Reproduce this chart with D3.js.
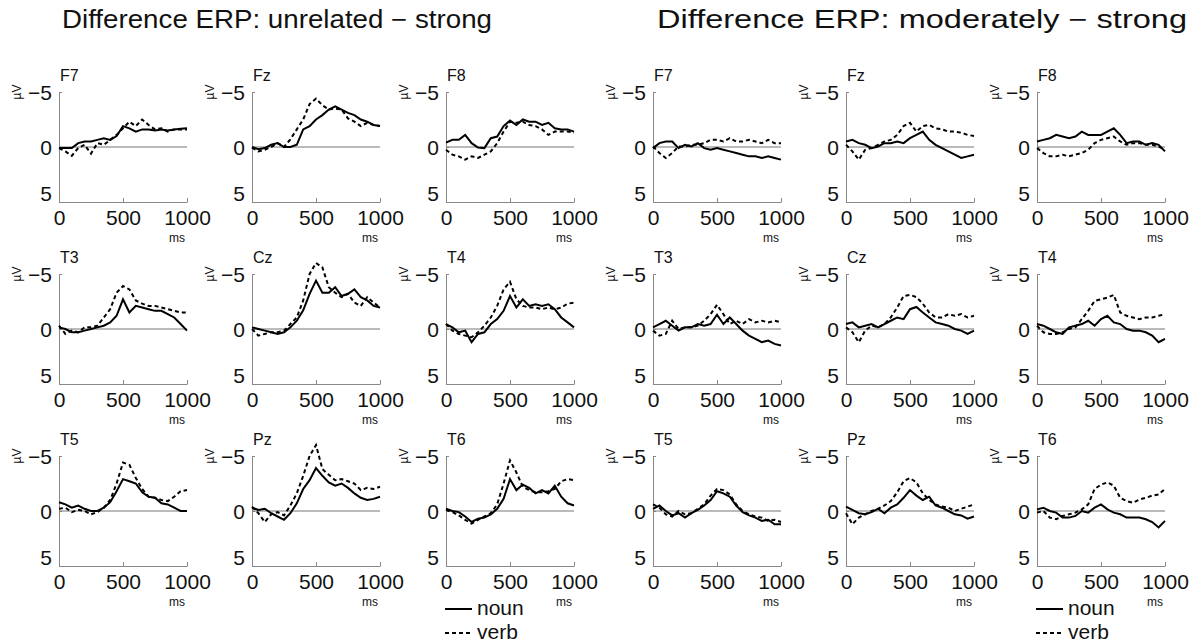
<!DOCTYPE html>
<html>
<head>
<meta charset="utf-8">
<script src="https://cdn.jsdelivr.net/npm/d3@7"></script>
<style>
  body { margin: 0; background: #fff; }
  text { font-family: "Liberation Sans", Arial, sans-serif; fill: #111; }
</style>
</head>
<body>
<svg id="chart" width="1202" height="644"></svg>
<script>
const times = [0, 50, 100, 150, 200, 250, 300, 350, 400, 450, 500, 550, 600, 650, 700, 750, 800, 850, 900, 950, 1000]
const electrodes = ['F7', 'Fz', 'F8', 'T3', 'Cz', 'T4', 'T5', 'Pz', 'T6']
const titles = ['Difference ERP: unrelated \u2212 strong', 'Difference ERP: moderately \u2212 strong']
const xTicks = [0, 500, 1000]
const yTicks = [-5, 0, 5]

// unrelated - strong, one array per electrode (µV, negative up)
const unrelNoun = [
	[0.1, 0.1, 0.1, -0.35, -0.5, -0.5, -0.65, -0.8, -0.65, -1.0, -1.9, -1.7, -1.4, -1.6, -1.6, -1.5, -1.6, -1.5, -1.6, -1.65, -1.7],
	[0, 0.2, 0.1, -0.2, -0.35, 0, 0, -0.2, -1.6, -1.9, -2.5, -2.9, -3.4, -3.7, -3.4, -3.1, -2.9, -2.5, -2.3, -2.0, -1.9],
	[-0.4, -0.65, -0.65, -1.1, -0.35, 0.05, 0.1, -0.8, -0.95, -1.9, -2.4, -2.0, -2.5, -2.3, -2.3, -2.0, -2.2, -1.7, -1.6, -1.6, -1.4],
	[-0.15, 0, 0.3, 0.3, 0.15, 0, -0.15, -0.3, -0.6, -1.2, -2.7, -1.5, -2.1, -1.95, -1.8, -1.65, -1.65, -1.35, -1.05, -0.45, 0.15],
	[-0.15, 0, 0.15, 0.3, 0.45, 0.3, -0.15, -0.75, -1.7, -3.2, -4.4, -3.3, -3.3, -3.8, -3.0, -3.2, -3.6, -2.9, -2.6, -2.1, -1.95],
	[-0.45, -0.15, 0.3, 0.15, 1.2, 0.45, 0.3, -0.45, -0.9, -1.65, -3.0, -1.95, -2.7, -2.1, -2.25, -2.1, -2.25, -1.8, -1.05, -0.6, -0.15],
	[-0.8, -0.6, -0.3, -0.5, -0.2, 0, 0, -0.3, -0.8, -1.8, -2.9, -2.7, -2.5, -1.7, -1.3, -1.2, -0.7, -0.6, -0.3, 0, 0],
	[-0.3, -0.1, -0.2, 0.2, 0.5, 0.8, 0.2, -0.7, -2.0, -2.8, -3.9, -3.2, -2.6, -2.3, -2.5, -2.1, -1.6, -1.2, -1.0, -1.1, -1.3],
	[-0.2, 0, 0.1, 0.5, 1.0, 0.7, 0.6, 0.3, -0.2, -1.1, -2.9, -1.9, -2.4, -2.1, -1.6, -1.9, -1.6, -2.3, -1.3, -0.7, -0.5]
]
const unrelVerb = [
	[0.1, 0.4, 0.8, 0.1, -0.2, 0.6, -0.35, -0.2, -0.65, -1.1, -1.7, -2.3, -1.9, -2.5, -2.0, -1.6, -1.7, -1.4, -1.6, -1.6, -1.6],
	[0.05, 0.4, 0.25, 0, -0.35, 0, -0.7, -1.6, -2.5, -3.9, -4.4, -3.8, -3.4, -3.5, -3.4, -2.6, -2.3, -1.9, -2.2, -2.0, -1.9],
	[0.25, 0.7, 0.85, 1.15, 0.85, 1.0, 0.7, 0.4, -0.35, -1.4, -2.3, -2.2, -2.3, -2.0, -1.9, -1.6, -1.1, -1.4, -1.4, -1.4, -1.3],
	[-0.3, 0.45, 0.15, 0.3, -0.15, -0.15, -0.3, -1.05, -1.8, -3.3, -3.9, -3.6, -2.6, -2.3, -2.1, -2.1, -1.95, -1.8, -1.65, -1.5, -1.5],
	[0, 0.6, 0.45, 0.3, 0.3, 0.15, -0.45, -1.05, -2.6, -5.0, -6.0, -5.6, -3.8, -3.3, -2.9, -3.2, -2.4, -2.1, -2.9, -2.4, -1.95],
	[-0.45, 0.15, 0.45, 0.6, 0.75, 0.3, -0.3, -1.05, -2.1, -3.6, -4.3, -2.7, -2.1, -1.95, -1.95, -1.8, -1.95, -1.8, -1.95, -2.3, -2.4],
	[-0.2, -0.3, 0.1, -0.1, 0, 0.3, 0.1, -0.3, -1.0, -2.5, -4.4, -4.2, -3.0, -2.0, -1.3, -1.2, -1.0, -0.9, -1.3, -1.8, -1.9],
	[-0.4, 0.2, 1.0, 0.3, 0.1, 0.4, -0.5, -1.6, -3.2, -5.0, -6.0, -3.8, -3.3, -2.8, -2.9, -2.7, -2.5, -1.9, -2.1, -2.0, -2.2],
	[-0.1, 0.1, 0.4, 0.8, 1.15, 0.8, 0.5, 0.2, -0.6, -2.5, -4.6, -3.5, -2.2, -1.9, -1.7, -1.7, -1.8, -2.0, -2.7, -2.9, -2.8]
]

// moderately - strong
const modNoun = [
	[0.1, -0.35, -0.5, -0.5, 0.1, -0.2, -0.05, -0.35, 0.1, 0.25, 0.1, 0.25, 0.4, 0.55, 0.7, 0.85, 0.85, 1.0, 0.85, 1.0, 1.15],
	[-0.5, -0.65, -0.35, -0.2, 0.1, -0.05, -0.35, -0.35, -0.5, -0.35, -0.8, -1.1, -1.4, -0.65, -0.2, 0.1, 0.4, 0.7, 1.0, 0.85, 0.7],
	[-0.5, -0.65, -0.8, -1.1, -0.95, -0.8, -0.95, -1.4, -1.1, -1.1, -1.1, -1.4, -1.7, -1.1, -0.35, -0.5, -0.5, -0.2, -0.35, -0.2, 0.4],
	[-0.15, -0.45, -0.75, -0.3, 0.15, -0.15, -0.15, -0.45, -0.3, -0.45, -1.3, -0.45, -1.05, -0.45, 0.15, 0.6, 0.9, 1.2, 1.05, 1.35, 1.5],
	[-0.45, -0.6, -0.15, -0.3, -0.45, -0.15, -0.45, -0.75, -1.05, -0.9, -1.8, -2.0, -1.5, -1.05, -0.6, -0.45, -0.3, 0, 0.15, 0.45, 0.15],
	[-0.45, -0.3, 0, 0.3, 0.45, -0.15, -0.3, -0.45, -0.75, -0.3, -0.9, -1.2, -0.6, -0.45, 0, 0.15, 0.15, 0.3, 0.6, 1.2, 0.9],
	[-0.2, -0.5, 0, 0.4, 0.2, 0.6, 0.2, -0.1, -0.5, -1.0, -1.8, -1.6, -1.3, -0.5, 0.1, 0.4, 0.6, 0.9, 0.8, 1.2, 1.2],
	[-0.4, -0.1, 0.2, 0.3, 0.1, -0.2, 0.2, -0.3, -0.6, -1.2, -1.9, -1.4, -1.0, -1.3, -0.5, -0.3, 0, 0.3, 0.4, 0.7, 0.5],
	[-0.15, -0.3, 0, 0.15, 0.6, 0.6, 0.45, 0, 0.15, -0.3, -0.6, -0.15, 0.15, 0.3, 0.6, 0.6, 0.6, 0.75, 1.0, 1.5, 0.9]
]
const modVerb = [
	[-0.05, 0.55, 1.0, 0.55, -0.05, -0.05, -0.2, -0.2, -0.35, -0.65, -0.65, -0.5, -0.8, -0.5, -0.5, -0.65, -0.5, -0.35, -0.65, -0.35, -0.35],
	[-0.2, 0.4, 1.15, 0.25, 0.1, -0.2, -0.5, -0.65, -1.1, -1.9, -2.2, -1.4, -1.9, -2.0, -1.7, -1.6, -1.4, -1.4, -1.3, -1.1, -1.0],
	[0.1, 0.55, 0.85, 0.85, 0.7, 0.85, 0.7, 0.55, 0.25, -0.35, -0.65, -0.8, -0.95, -0.5, -0.2, -0.35, -0.35, -0.2, -0.2, -0.05, 0.25],
	[0.15, 0.6, 0.45, -0.75, 0, -0.15, -0.15, -0.3, -0.75, -1.35, -2.2, -1.35, -0.45, -0.75, -0.45, -0.9, -0.6, -0.75, -0.6, -0.75, -0.6],
	[-0.15, 0.3, 1.2, 0.15, -0.3, -0.15, -0.45, -1.05, -1.95, -3.0, -3.1, -2.9, -2.3, -1.5, -1.05, -1.05, -1.35, -1.2, -1.35, -1.05, -1.2],
	[-0.3, 0.3, 0.45, 0.45, 0.3, 0, -0.15, -0.9, -1.65, -2.55, -2.7, -2.85, -3.1, -1.5, -1.2, -1.05, -0.9, -1.05, -1.05, -1.2, -1.35],
	[-0.6, -0.3, 0.3, 0.5, 0, 0.3, 0.2, -0.2, -0.6, -1.4, -2.0, -1.9, -1.5, -0.6, 0, 0.3, 0.5, 0.6, 0.9, 0.8, 1.0],
	[0.2, 1.2, 0.6, 0.3, 0, -0.2, -0.5, -0.9, -1.7, -2.7, -3.0, -2.6, -1.6, -1.0, -0.6, -0.4, -0.3, 0, -0.2, -0.4, -0.6],
	[0.15, 0, 0.6, 0.75, 0.45, 0.3, 0.15, -0.15, -0.6, -2.0, -2.4, -2.6, -2.3, -1.2, -0.9, -0.75, -1.05, -1.2, -1.4, -1.5, -2.0]
]

const svg = d3.select('#chart')

// layout of the two 3x3 groups
const groupCols = [[59, 252, 446], [653, 846, 1037]]
const rowZero = [147, 329, 511]
const panelW = 128
const halfH = 55

const titleX = [62, 657]
const titleLen = [430, 530]
titles.forEach((t, i) => {
	svg.append('text')
		.attr('x', titleX[i])
		.attr('y', 28)
		.attr('textLength', titleLen[i])
		.attr('lengthAdjust', 'spacingAndGlyphs')
		.style('font-size', '25px')
		.text(t)
})

const line = (x, y) => d3.line().x((d, i) => x(times[i])).y((d) => y(d))

function panel(x0, zero, name, noun, verb) {
	const x = d3.scaleLinear().domain([0, 1000]).range([x0, x0 + panelW])
	const y = d3.scaleLinear().domain([-5, 5]).range([zero - halfH, zero + halfH])
	const g = svg.append('g')

	// x axis at the bottom (5 µV)
	const xAxis = d3.axisBottom(x).tickValues(xTicks).tickFormat(d3.format('d'))
		.tickSizeInner(-4).tickSizeOuter(0).tickPadding(8)
	const gx = g.append('g').attr('transform', `translate(0,${y(5)})`).call(xAxis)
	gx.select('.domain').attr('stroke', '#888')
	gx.selectAll('.tick line').attr('stroke', '#888')
	gx.selectAll('.tick text').attr('fill', '#111').style('font-size', '21px').style('font-family', '"Liberation Sans", Arial, sans-serif')

	// y axis
	const yAxis = d3.axisLeft(y).tickValues(yTicks).tickSizeInner(-3).tickSizeOuter(0).tickPadding(7)
	const gy = g.append('g').attr('transform', `translate(${x0},0)`).call(yAxis)
	gy.select('.domain').attr('stroke', '#888')
	gy.selectAll('.tick line').attr('stroke', '#888')
	gy.selectAll('.tick text').attr('fill', '#111').style('font-size', '21px').style('font-family', '"Liberation Sans", Arial, sans-serif')
		.attr('dy', (d) => (d === 5 ? '-0.05em' : '0.36em'))

	// zero line
	g.append('line')
		.attr('x1', x(0)).attr('x2', x(1000))
		.attr('y1', y(0)).attr('y2', y(0))
		.attr('stroke', '#777').attr('stroke-width', 1)

	// units
	g.append('text')
		.attr('transform', `translate(${x0 - 42},${y(-5)}) rotate(-90)`)
		.attr('text-anchor', 'middle')
		.attr('dy', '0.35em')
		.style('font-size', '12px')
		.text('\u00b5V')
	g.append('text')
		.attr('x', x(1000) - 10)
		.attr('y', y(5) + 40)
		.attr('text-anchor', 'middle')
		.style('font-size', '12px')
		.text('ms')
	g.append('text')
		.attr('x', x0 + 1)
		.attr('y', y(-5) - 11)
		.style('font-size', '16px')
		.text(name)

	// waveforms
	g.append('path').datum(noun)
		.attr('d', line(x, y))
		.attr('fill', 'none').attr('stroke', '#000').attr('stroke-width', 2)
	g.append('path').datum(verb)
		.attr('d', line(x, y))
		.attr('fill', 'none').attr('stroke', '#000').attr('stroke-width', 2)
		.attr('stroke-dasharray', '4,3')
}

const conditions = [[unrelNoun, unrelVerb], [modNoun, modVerb]]
conditions.forEach(([nounSet, verbSet], gi) => {
	electrodes.forEach((name, k) => {
		const r = Math.floor(k / 3)
		const c = k % 3
		panel(groupCols[gi][c], rowZero[r], name, nounSet[k], verbSet[k])
	})

	// legend below the last panel of each group
	const lx = groupCols[gi][2]
	const legend = [['noun', null, 615], ['verb', '4,3', 639]]
	legend.forEach(([label, dash, base]) => {
		svg.append('line')
			.attr('x1', lx - 1).attr('x2', lx + 26)
			.attr('y1', base - 6).attr('y2', base - 6)
			.attr('stroke', '#000').attr('stroke-width', 2)
			.attr('stroke-dasharray', dash)
		svg.append('text')
			.attr('x', lx + 31)
			.attr('y', base)
			.style('font-size', '21px')
			.text(label)
	})
})
</script>
</body>
</html>
